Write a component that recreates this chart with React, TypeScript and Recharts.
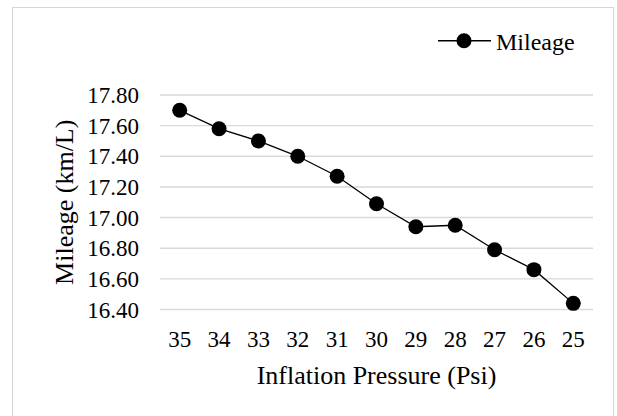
import { CartesianGrid, Legend, Line, LineChart, XAxis, YAxis } from "recharts";

const pressures = ["35", "34", "33", "32", "31", "30", "29", "28", "27", "26", "25"];
const mileage = [17.7, 17.58, 17.5, 17.4, 17.27, 17.09, 16.94, 16.95, 16.79, 16.66, 16.44];
const yTicks = [16.4, 16.6, 16.8, 17.0, 17.2, 17.4, 17.6, 17.8];

const data = pressures.map((p, i) => ({ psi: p, mileage: mileage[i] }));

const serif = "Liberation Serif";

function LegendBox({ payload }: any) {
  const item = payload && payload[0];
  if (!item) return null;
  return (
    <svg width={180} height={40}>
      <line x1={8} x2={61} y1={20.7} y2={20.7} stroke="#000" strokeWidth={1.5} />
      <circle cx={34} cy={20.7} r={7.5} fill="#000" />
      <text x={66} y={30} fontSize={24} fontFamily={serif} fill="#000">
        {item.value}
      </text>
    </svg>
  );
}

export default function App() {
  return (
    <div style={{ position: "absolute", left: 0, top: 0, width: 617, height: 416, overflow: "hidden", background: "#fff" }}>
      <div
        style={{
          position: "absolute",
          left: 12,
          top: 7,
          width: 600,
          height: 430,
          border: "1.5px solid #d6d6d6",
        }}
      />
      <LineChart
        width={617}
        height={416}
        data={data}
        margin={{ top: 95, right: 24, bottom: 0, left: 0 }}
        style={{ position: "absolute", left: 0, top: 0 }}
      >
        <CartesianGrid vertical={false} stroke="#d9d9d9" strokeWidth={1.4} />
        <XAxis
          dataKey="psi"
          type="category"
          tickLine={false}
          axisLine={false}
          tickMargin={15}
          height={106.5}
          padding={{ left: 19.7, right: 19.7 }}
          tick={{ fontSize: 23, fill: "#000", fontFamily: serif }}
          label={{
            value: "Inflation Pressure (Psi)",
            position: "insideBottom",
            offset: 32,
            fontSize: 26,
            fill: "#000",
            fontFamily: serif,
          }}
        />
        <YAxis
          domain={[16.4, 17.8]}
          ticks={yTicks}
          interval={0}
          tickFormatter={(v: number) => v.toFixed(2)}
          tickLine={false}
          axisLine={false}
          tickMargin={15}
          width={160}
          tick={{ fontSize: 23, fill: "#000", fontFamily: serif }}
          label={{
            value: "Mileage (km/L)",
            angle: -90,
            position: "insideLeft",
            offset: 64,
            fontSize: 26,
            fill: "#000",
            fontFamily: serif,
            style: { textAnchor: "middle" },
          }}
        />
        <Legend
          verticalAlign="middle"
          align="center"
          layout="horizontal"
          content={LegendBox}
          wrapperStyle={{ left: 430, top: 20, width: 180, height: 40 }}
        />
        <Line
          type="linear"
          dataKey="mileage"
          name="Mileage"
          stroke="#000"
          strokeWidth={1.3}
          dot={{ r: 7.5, fill: "#000", stroke: "#000", strokeWidth: 0 }}
          activeDot={false}
          isAnimationActive={false}
        />
      </LineChart>
    </div>
  );
}
